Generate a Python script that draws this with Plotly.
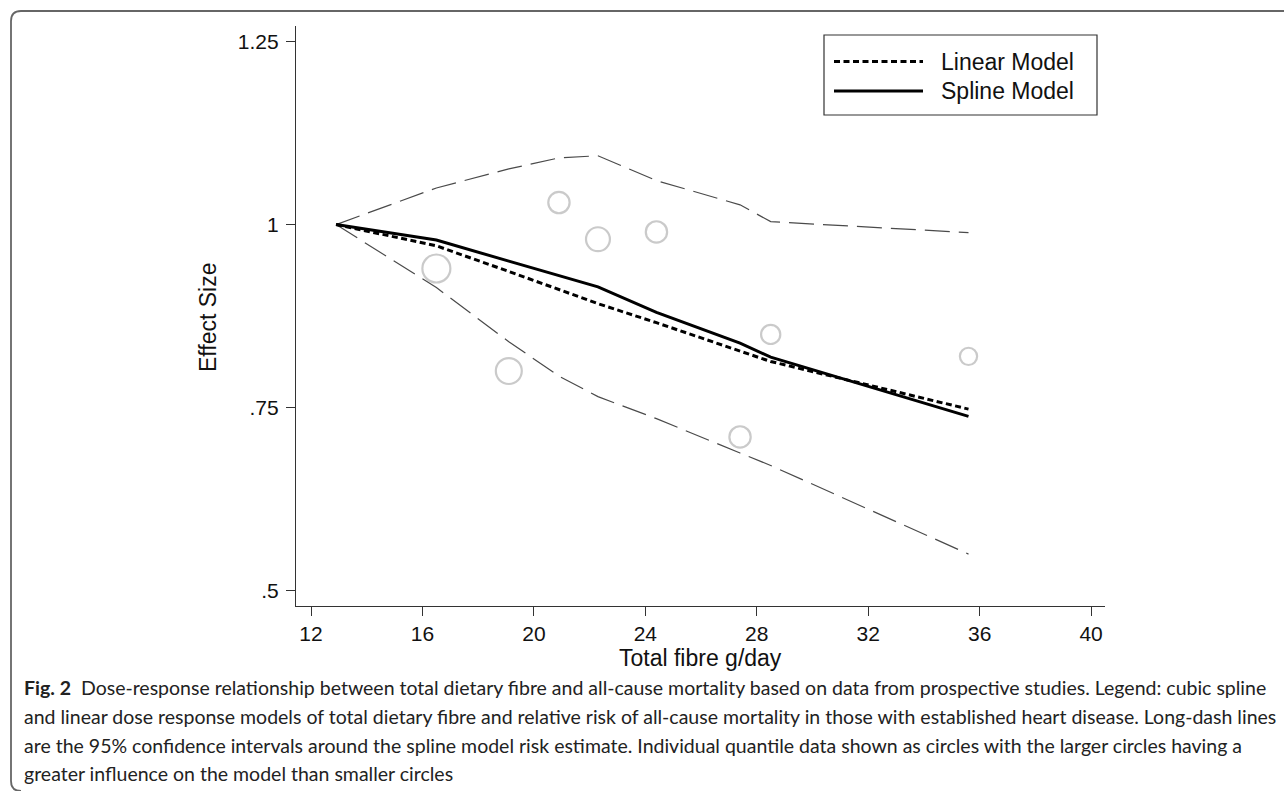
import plotly.graph_objects as go

# ---------------- data ----------------
fibre_knots = [12.9, 16.5, 19.1, 20.9, 22.3, 24.4, 27.4, 28.5, 35.6]
spline_rr = [1.000, 0.979, 0.950, 0.930, 0.915, 0.880, 0.838, 0.819, 0.738]
linear_rr = [1.000, 0.971, 0.936, 0.911, 0.892, 0.866, 0.828, 0.813, 0.748]
ci_upper = [1.000, 1.050, 1.076, 1.091, 1.094, 1.060, 1.027, 1.004, 0.989]
ci_lower = [1.000, 0.914, 0.840, 0.793, 0.765, 0.735, 0.688, 0.671, 0.550]

study_fibre = [16.5, 19.1, 20.9, 22.3, 24.4, 27.4, 28.5, 35.6]
study_rr = [0.94, 0.80, 1.03, 0.98, 0.99, 0.71, 0.85, 0.82]
study_weight = [1.00, 0.86, 0.58, 0.73, 0.58, 0.58, 0.47, 0.38]

x_ticks = [12, 16, 20, 24, 28, 32, 36, 40]
y_ticks = [0.5, 0.75, 1.0, 1.25]
y_ticklabels = [".5", ".75", "1", "1.25"]

legend_labels = ["Linear Model", "Spline Model"]
x_title = "Total fibre g/day"
y_title = "Effect Size"
caption_lines = [
    "<b>Fig. 2</b>  Dose-response relationship between total dietary fibre and all-cause mortality based on data from prospective studies. Legend: cubic spline",
    "and linear dose response models of total dietary fibre and relative risk of all-cause mortality in those with established heart disease. Long-dash lines",
    "are the 95% confidence intervals around the spline model risk estimate. Individual quantile data shown as circles with the larger circles having a",
    "greater influence on the model than smaller circles",
]

# ---------------- layout geometry (pixels) ----------------
W, H = 1284, 791
L, R, T, B = 296, 1105, 26, 606
PW, PH = R - L, B - T


def px(xp):
    return (xp - L) / PW


def py(yp):
    return (B - yp) / PH


AX_FONT = "Liberation Sans, Arial, Helvetica, sans-serif"
CAP_FONT = "Lato, Open Sans, sans-serif"

fig = go.Figure()

fig.add_trace(go.Scatter(
    x=study_fibre, y=study_rr, mode="markers",
    marker=dict(symbol="circle-open", size=study_weight, sizemode="area",
                sizeref=2.0 * max(study_weight) / (28.0 ** 2),
                color="#b4b4b4", line=dict(width=2.2, color="#b4b4b4")),
    hoverinfo="skip", showlegend=False))

for ci in (ci_upper, ci_lower):
    fig.add_trace(go.Scatter(
        x=fibre_knots, y=ci, mode="lines",
        line=dict(color="#4a4a4a", width=1.2, dash="25px,9px"),
        showlegend=False, hoverinfo="skip"))

fig.add_trace(go.Scatter(
    x=fibre_knots, y=linear_rr, mode="lines",
    line=dict(color="black", width=3, dash="6px,3.5px"),
    showlegend=False))
fig.add_trace(go.Scatter(
    x=fibre_knots, y=spline_rr, mode="lines",
    line=dict(color="black", width=3),
    showlegend=False))

xmin = 12 - (311 - L) / 27.86
xmax = 12 + (R - 311) / 27.86
ymin = 0.5 - (B - 590.7) / 732.0
ymax = 1.25 + (41.5 - T) / 732.0

fig.update_xaxes(range=[xmin, xmax], tickvals=x_ticks, ticks="outside", ticklen=9,
                 tickwidth=1, tickcolor="#333", showline=True, linecolor="#333",
                 linewidth=1.2, showgrid=False, zeroline=False,
                 tickfont=dict(family=AX_FONT, size=21, color="#111"),
                 ticklabelstandoff=0)
fig.update_yaxes(range=[ymin, ymax], tickvals=y_ticks, ticktext=y_ticklabels,
                 ticks="outside", ticklen=9, tickwidth=1, tickcolor="#333",
                 showline=True, linecolor="#333", linewidth=1.2, showgrid=False,
                 zeroline=False, tickfont=dict(family=AX_FONT, size=21, color="#111"),
                 ticklabelstandoff=3)

shapes = []
annotations = []

# axis titles
annotations.append(dict(x=px(700), y=py(658), xref="paper", yref="paper", text=x_title,
                        showarrow=False, xanchor="center", yanchor="middle",
                        font=dict(family=AX_FONT, size=23, color="#111")))
annotations.append(dict(x=px(208), y=py(317), xref="paper", yref="paper", text=y_title,
                        showarrow=False, xanchor="center", yanchor="middle", textangle=-90,
                        font=dict(family=AX_FONT, size=23, color="#111")))

# custom legend
shapes.append(dict(type="rect", xref="paper", yref="paper", x0=px(824), x1=px(1097),
                   y0=py(115), y1=py(35), line=dict(color="#333", width=1.2),
                   fillcolor="white", layer="above"))
leg_y = [61.5, 91]
leg_dash = ["6px,3.5px", "solid"]
for lab, yy, dsh in zip(legend_labels, leg_y, leg_dash):
    shapes.append(dict(type="line", xref="paper", yref="paper", x0=px(834), x1=px(923),
                       y0=py(yy), y1=py(yy), line=dict(color="black", width=3, dash=dsh),
                       layer="above"))
    annotations.append(dict(x=px(939), y=py(yy), xref="paper", yref="paper", text=lab,
                            showarrow=False, xanchor="left", yanchor="middle",
                            font=dict(family=AX_FONT, size=23, color="#111")))

# caption frame (rounded left side, open right)
r = 10
path = (f"M {px(W + 5)},{py(11)} L {px(11 + r)},{py(11)} "
        f"Q {px(11)},{py(11)} {px(11)},{py(11 + r)} "
        f"L {px(11)},{py(791 - r)} Q {px(11)},{py(791)} {px(11 + r)},{py(791)}")
shapes.append(dict(type="path", xref="paper", yref="paper", path=path,
                   line=dict(color="#666", width=1.8)))

cap_y = [687, 716, 745, 773]
for line, yy in zip(caption_lines, cap_y):
    annotations.append(dict(x=px(22), y=py(yy), xref="paper", yref="paper", text=line,
                            showarrow=False, xanchor="left", yanchor="middle", align="left",
                            font=dict(family=CAP_FONT, size=19.5, color="#222")))

fig.update_layout(width=W, height=H, margin=dict(l=L, r=W - R, t=T, b=H - B),
                  paper_bgcolor="white", plot_bgcolor="white",
                  shapes=shapes, annotations=annotations, showlegend=False)

fig.write_html("out.html", config={"displayModeBar": False},
               post_script="document.body.style.margin='0px';document.body.style.overflow='hidden';")
